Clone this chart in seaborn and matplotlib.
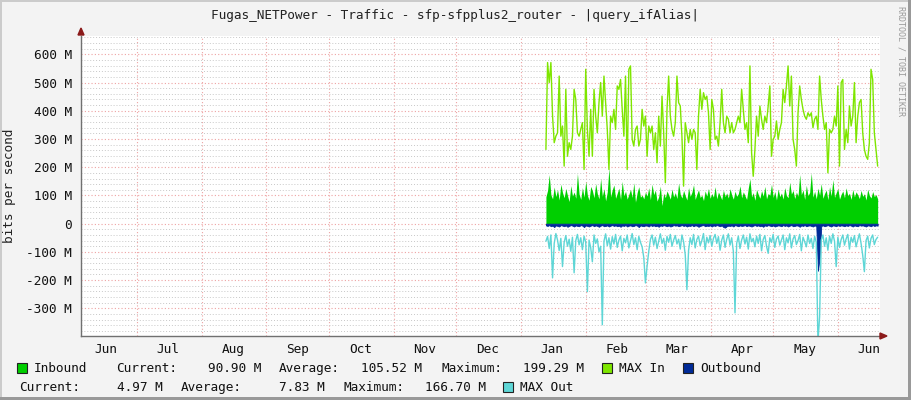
"""
plot.py - RRDtool style traffic graph (Fugas_NETPower sfp-sfpplus2_router).
"""
import pandas as pd
import matplotlib
matplotlib.use('Agg')
import matplotlib.pyplot as plt
import matplotlib.dates as mdates
import seaborn as sns
from matplotlib.patches import Rectangle, Polygon
from matplotlib.ticker import MultipleLocator, FuncFormatter

# -- Data (bits per second, in M) --
data_start = '2024-01-13'
data_end = '2024-06-20'

inbound = [
    95, 118, 174, 102, 88, 130, 96, 121, 84, 140, 110, 92, 125, 100, 78, 135, 98, 112, 90, 178,
    105, 86, 128, 94, 150, 101, 83, 132, 117, 92, 142, 106, 88, 160, 97, 124, 81, 113, 198, 95,
    120, 137, 90, 108, 126, 86, 150, 99, 115, 87, 104, 122, 93, 145, 76, 110, 131, 94, 101, 88,
    112, 98, 127, 85, 140, 103, 119, 80, 96, 133, 64, 108, 92, 116, 102, 87, 123, 95, 110, 89,
    144, 104, 91, 118, 99, 84, 128, 97, 111, 138, 86, 105, 120, 93, 101, 82, 116, 98, 125, 90,
    107, 94, 131, 88, 112, 100, 85, 119, 96, 109, 91, 124, 102, 87, 115, 97, 106, 134, 92, 113,
    99, 86, 126, 159, 95, 110, 83, 121, 104, 90, 117, 98, 132, 88, 107, 101, 140, 93, 114, 84,
    123, 96, 109, 87, 128, 100, 92, 147, 105, 118, 89, 112, 97, 174, 103, 120, 86, 136, 99, 111,
    180, 94, 115, 88, 126, 101, 142, 90, 107, 119, 85, 131, 98, 156, 93, 110, 124, 87, 104, 116,
    92, 127, 99, 108, 86, 121, 95, 113, 102, 89, 118, 97, 106, 84, 122, 100, 91, 114, 96, 103, 88,
]

max_in = [
    263, 571, 500, 571, 381, 287, 310, 322, 523, 310, 346, 204, 476, 239, 287, 263, 310, 476, 440, 322,
    310, 334, 358, 192, 547, 334, 239, 405, 239, 476, 381, 322, 429, 500, 381, 523, 429, 334, 192, 381,
    358, 405, 334, 488, 476, 511, 405, 310, 523, 192, 547, 559, 299, 275, 334, 346, 275, 299, 405, 346,
    381, 239, 346, 322, 346, 263, 322, 216, 381, 275, 452, 322, 145, 405, 523, 381, 334, 310, 358, 523,
    429, 417, 310, 133, 358, 322, 287, 334, 299, 334, 322, 192, 381, 476, 405, 464, 440, 452, 393, 263,
    440, 405, 299, 310, 275, 358, 476, 358, 322, 381, 370, 322, 358, 322, 334, 358, 381, 358, 476, 405,
    334, 358, 287, 559, 251, 168, 263, 381, 310, 417, 370, 334, 381, 358, 417, 488, 239, 299, 310, 364,
    299, 334, 358, 476, 429, 488, 559, 417, 523, 299, 263, 204, 393, 488, 440, 405, 381, 370, 393, 381,
    393, 340, 370, 381, 334, 523, 440, 381, 334, 358, 180, 334, 322, 334, 381, 346, 488, 204, 500, 511,
    263, 334, 287, 417, 346, 381, 500, 287, 381, 429, 440, 322, 263, 239, 228, 287, 547, 511, 322, 263, 204,
]

outbound = [
    6, 8, 5, 9, 7, 12, 6, 8, 10, 5, 7, 9, 6, 11, 8, 5, 7, 10, 6, 8,
    9, 5, 7, 12, 6, 8, 10, 7, 5, 9, 6, 8, 11, 7, 5, 9, 8, 6, 10, 7,
    5, 8, 6, 9, 7, 11, 6, 8, 5, 10, 7, 6, 9, 8, 5, 7, 12, 6, 8, 9,
    6, 7, 10, 5, 8, 6, 9, 7, 11, 6, 8, 5, 7, 9, 6, 10, 8, 5, 7, 6,
    9, 7, 5, 8, 6, 10, 7, 8, 5, 9, 6, 7, 11, 8, 6, 5, 9, 7, 8, 6,
    10, 6, 8, 5, 7, 9, 6, 12, 14, 9, 7, 8, 6, 10, 5, 7, 9, 6, 8, 7,
    5, 9, 6, 8, 10, 7, 5, 8, 6, 9, 7, 11, 6, 8, 5, 7, 9, 6, 10, 8,
    6, 7, 9, 5, 8, 6, 10, 7, 5, 9, 8, 6, 7, 11, 6, 8, 5, 9, 7, 6,
    8, 10, 6, 9, 167, 120, 8, 6, 9, 7, 5, 8, 10, 6, 7, 9, 5, 8, 6, 7,
    9, 6, 8, 5, 7, 10, 6, 8, 9, 5, 7, 6, 8, 10, 6, 7, 9, 5, 8, 6, 7,
]

max_out = [
    62, 45, 88, 40, 192, 70, 35, 58, 95, 52, 152, 66, 42, 80, 55, 98, 48, 174, 60, 38,
    75, 50, 92, 44, 66, 241, 58, 85, 135, 40, 70, 54, 100, 80, 358, 62, 36, 78, 50, 90,
    46, 72, 38, 84, 58, 44, 96, 52, 68, 40, 86, 60, 35, 74, 50, 92, 45, 66, 82, 120,
    210, 150, 98, 56, 40, 76, 48, 88, 62, 36, 70, 52, 94, 45, 66, 38, 80, 58, 42, 72,
    55, 90, 40, 64, 110, 234, 95, 50, 74, 38, 86, 56, 44, 78, 60, 35, 92, 48, 68, 42,
    80, 52, 38, 70, 46, 94, 58, 40, 84, 55, 36, 76, 50, 98, 316, 70, 44, 88, 58, 40,
    72, 48, 90, 36, 64, 52, 82, 44, 70, 38, 96, 56, 42, 80, 105, 50, 66, 38, 84, 54,
    44, 76, 58, 40, 92, 50, 68, 36, 86, 54, 42, 74, 60, 38, 96, 48, 64, 82, 40, 70,
    52, 88, 45, 66, 420, 330, 58, 40, 80, 50, 94, 44, 70, 36, 62, 152, 48, 84, 56, 40,
    76, 54, 38, 90, 48, 66, 42, 82, 58, 36, 70, 112, 170, 60, 44, 86, 52, 40, 74, 56, 48,
]

legend_in = ['90.90 M', '105.52 M', '199.29 M']
legend_out = ['4.97 M', '7.83 M', '166.70 M']

TITLE = 'Fugas_NETPower - Traffic - sfp-sfpplus2_router - |query_ifAlias|'

# -- Style --
sns.set_style('white')
plt.rcParams['font.family'] = ['DejaVu Sans Mono', 'DejaVu Sans']
FS = 9.2
C_IN, C_MAXIN = '#00CF00', '#7EE600'
C_OUT, C_MAXOUT = '#002A97', '#5ED6D6'
W, H = 911, 400


def series(vals):
    return pd.DataFrame({'date': pd.date_range(data_start, data_end, periods=len(vals)),
                         'value': vals})


def fx(x):
    return x / W


def fy(y):
    return 1 - y / H


df_in, df_maxin = series(inbound), series(max_in)
df_out, df_maxout = series(outbound), series(max_out)
df_out['value'] = -df_out['value']
df_maxout['value'] = -df_maxout['value']

fig = plt.figure(figsize=(W / 100, H / 100), dpi=100, facecolor='#f3f3f3')
ax = fig.add_axes([fx(81), 64 / H, 799 / W, 300 / H])
ax.set_facecolor('white')
ax.set_axisbelow(True)

# data
ax.fill_between(df_in['date'], 0, df_in['value'], color=C_IN, linewidth=0)
sns.lineplot(data=df_maxin, x='date', y='value', color=C_MAXIN, linewidth=1, ax=ax)
sns.lineplot(data=df_maxout, x='date', y='value', color=C_MAXOUT, linewidth=1, ax=ax)
ax.fill_between(df_out['date'], 0, df_out['value'], color=C_OUT, linewidth=0.6,
                edgecolor=C_OUT)

# axes
ax.set_xlim(pd.Timestamp('2023-06-04 04:00'), pd.Timestamp('2024-06-21 03:00'))
ax.set_ylim(-398, 665)
ax.set_xlabel('')
ax.set_ylabel('')

ax.yaxis.set_major_locator(MultipleLocator(100))
ax.yaxis.set_minor_locator(MultipleLocator(20))
ax.yaxis.set_major_formatter(FuncFormatter(lambda v, p: '0' if v == 0 else f'{v:.0f} M'))
ax.xaxis.set_major_locator(mdates.MonthLocator(bymonthday=1))
ax.xaxis.set_major_formatter(plt.NullFormatter())
ax.xaxis.set_minor_locator(mdates.MonthLocator(bymonthday=16))
ax.xaxis.set_minor_formatter(mdates.DateFormatter('%b'))

ax.grid(True, which='major', axis='both', color='#eea3a3', linestyle=(0, (1, 2)), linewidth=0.8)
ax.grid(True, which='minor', axis='y', color='#c8c8c8', linestyle=(0, (1, 2)), linewidth=0.7)

ax.tick_params(axis='y', which='major', length=3, direction='inout', color='#999999',
               pad=5, labelsize=FS, labelcolor='#111111')
ax.tick_params(axis='y', which='minor', length=2, direction='in', color='#aaaaaa')
ax.tick_params(axis='x', which='major', length=3, direction='inout', color='#cc8888')
ax.tick_params(axis='x', which='minor', length=0, pad=5, labelsize=FS, labelcolor='#111111')

for s in ['top', 'right']:
    ax.spines[s].set_visible(False)
for s in ['left', 'bottom']:
    ax.spines[s].set_color('#707070')
    ax.spines[s].set_linewidth(1)

# arrows
fig.add_artist(Polygon([[fx(78), fy(35)], [fx(84), fy(35)], [fx(81), fy(28)]],
                       closed=True, color='#8b1a1a', transform=fig.transFigure))
fig.add_artist(Polygon([[fx(880), fy(333)], [fx(880), fy(339)], [fx(887), fy(336)]],
                       closed=True, color='#8b1a1a', transform=fig.transFigure))

# texts
fig.text(fx(455), fy(15), TITLE, ha='center', va='center', fontsize=FS, color='#222222')
fig.text(fx(10), fy(186), 'bits per second', rotation=90, ha='center', va='center',
         fontsize=FS, color='#222222')
fig.text(fx(901), fy(6), 'RRDTOOL / TOBI OETIKER', rotation=270, ha='center', va='top',
         fontsize=6, color='#999999')


def box(x, y, color):
    fig.add_artist(Rectangle((fx(x), fy(y + 10)), 10 / W, 10 / H, facecolor=color,
                             edgecolor='#222222', linewidth=0.8, transform=fig.transFigure))


def txt(x, y, s, ha='left'):
    fig.text(fx(x), fy(y), s, ha=ha, va='baseline', fontsize=FS, color='#111111')


r1, r2 = 372, 391
box(17, r1 - 9, C_IN)
txt(34, r1, 'Inbound')
txt(116, r1, 'Current:')
txt(261, r1, legend_in[0], ha='right')
txt(279, r1, 'Average:')
txt(422, r1, legend_in[1], ha='right')
txt(441, r1, 'Maximum:')
txt(584, r1, legend_in[2], ha='right')
box(602, r1 - 9, C_MAXIN)
txt(619, r1, 'MAX In')
box(683, r1 - 9, C_OUT)
txt(700, r1, 'Outbound')

txt(19, r2, 'Current:')
txt(163, r2, legend_out[0], ha='right')
txt(181, r2, 'Average:')
txt(325, r2, legend_out[1], ha='right')
txt(343, r2, 'Maximum:')
txt(486, r2, legend_out[2], ha='right')
box(503, r2 - 9, C_MAXOUT)
txt(520, r2, 'MAX Out')

# 3D-ish frame
for (x0, y0, w, h, col) in [(0, 0, 2, H, '#cbcbcb'), (0, H - 2, W, 2, '#cbcbcb'),
                            (W - 3, 0, 3, H, '#999999'), (0, 0, W, 3, '#999999')]:
    fig.add_artist(Rectangle((x0 / W, y0 / H), w / W, h / H, color=col, linewidth=0,
                             transform=fig.transFigure))

fig.savefig('out.png', dpi=100, facecolor=fig.get_facecolor())
